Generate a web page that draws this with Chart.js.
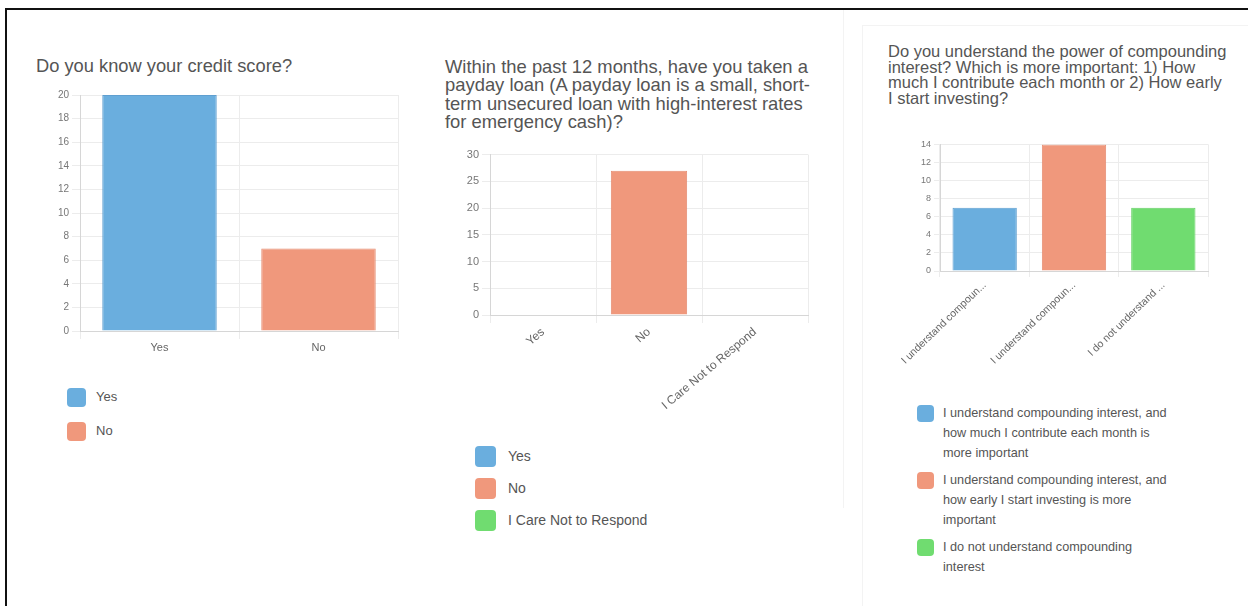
<!DOCTYPE html>
<html>
<head>
<meta charset="utf-8">
<script src="https://cdn.jsdelivr.net/npm/chart.js@4/dist/chart.umd.min.js"></script>
<style>
  body { margin: 0; width: 1248px; height: 606px; background: #fff; overflow: hidden;
         font-family: "Liberation Sans", Arial, sans-serif; position: relative; }
  .frame { position: absolute; left: 5px; top: 8px; width: 1300px; height: 700px;
           border-top: 2px solid #111; border-left: 2px solid #111; }
  .abs { position: absolute; }
  .title { position: absolute; color: #555; white-space: nowrap; }
  .legend { position: absolute; color: #555; }
  .legend .item { display: flex; align-items: flex-start; }
  .legend .box { flex: none; border-radius: 4px; }
  .faint { position: absolute; background: #f3f3f3; }
</style>
</head>
<body>
<div class="frame"></div>
<div class="faint" style="left:843px; top:10px; width:1px; height:498px;"></div>
<div class="faint" style="left:862px; top:25px; width:386px; height:1px;"></div>
<div class="faint" style="left:862px; top:25px; width:1px; height:581px;"></div>

<div class="title" style="left:36px; top:55px; font-size:18.3px;">Do you know your credit score?</div>
<div class="abs" style="left:45px; top:86px; width:355px; height:275px;"><canvas id="credit-chart"></canvas></div>
<div class="legend" id="credit-legend" style="left:67px; top:387px; font-size:13px;"></div>

<div class="title" style="left:445px; top:58px; font-size:18.4px; line-height:18.3px;">Within the past 12 months, have you taken a<br>payday loan (A payday loan is a small, short-<br>term unsecured loan with high-interest rates<br>for emergency cash)?</div>
<div class="abs" style="left:445px; top:145px; width:367px; height:265px;"><canvas id="payday-chart"></canvas></div>
<div class="legend" id="payday-legend" style="left:475px; top:446px; font-size:14px;"></div>

<div class="title" style="left:888px; top:44px; font-size:16.5px; line-height:15.5px;">Do you understand the power of compounding<br>interest? Which is more important: 1) How<br>much I contribute each month or 2) How early<br>I start investing?</div>
<div class="abs" style="left:880px; top:136px; width:332px; height:235px;"><canvas id="compound-chart"></canvas></div>
<div class="legend" id="compound-legend" style="left:917px; top:403px; font-size:12.7px;"></div>

<script>
// survey answers
const creditLabels = ['Yes', 'No'];
const creditCounts = [20, 7];

const paydayLabels = ['Yes', 'No', 'I Care Not to Respond'];
const paydayCounts = [0, 27, 0];

const compoundLabels = [
    'I understand compounding interest, and how much I contribute each month is more important',
    'I understand compounding interest, and how early I start investing is more important',
    'I do not understand compounding interest'
];
const compoundCounts = [7, 14, 7];

// y axis ranges [max, step]
const creditTicks = [20, 2];
const paydayTicks = [30, 5];
const compoundTicks = [14, 2];

const barColors = ['#6aaede', '#f0987c', '#70dc70'];
const barBorders = ['#5f9fd0', '#e58d72', '#66d066'];

Chart.defaults.font.family = '"Liberation Sans", Arial, sans-serif';
Chart.defaults.color = '#666';

function makeBarChart(id, labels, counts, ticks, opts) {
    return new Chart(document.getElementById(id), {
        type: 'bar',
        data: {
            labels: labels,
            datasets: [{
                data: counts,
                backgroundColor: barColors.slice(0, labels.length),
                borderColor: barBorders.slice(0, labels.length),
                borderWidth: 1
            }]
        },
        options: {
            responsive: true,
            maintainAspectRatio: false,
            animation: false,
            layout: { padding: { top: opts.padTop, right: opts.padRight, left: 0, bottom: 0 } },
            plugins: {
                legend: { display: false },
                tooltip: { enabled: false }
            },
            scales: {
                x: {
                    grid: { color: '#ececec', tickLength: opts.tickLen },
                    border: { color: '#d6d6d6' },
                    ticks: {
                        font: { size: opts.xFont },
                        color: '#666',
                        padding: 2,
                        minRotation: opts.rotation,
                        maxRotation: opts.rotation,
                        autoSkip: false,
                        callback: function(value) {
                            const label = this.getLabelForValue(value);
                            if (opts.truncate && label.length > opts.truncate) {
                                return label.slice(0, opts.truncate) + '...';
                            }
                            return label;
                        }
                    },
                    afterFit: function(scale) { scale.height = opts.xHeight; }
                },
                y: {
                    min: 0,
                    max: ticks[0],
                    grid: { color: '#ececec', tickLength: opts.tickLen },
                    border: { color: '#d6d6d6' },
                    ticks: { stepSize: ticks[1], font: { size: opts.yFont }, color: '#777', padding: 3 },
                    afterFit: function(scale) { scale.width = opts.yWidth; }
                }
            }
        }
    });
}

function buildLegend(id, labels, boxSize, gap, lineHeight, textWidth) {
    const el = document.getElementById(id);
    labels.forEach((label, i) => {
        const item = document.createElement('div');
        item.className = 'item';
        item.style.marginBottom = gap + 'px';
        item.style.lineHeight = lineHeight + 'px';
        const box = document.createElement('span');
        box.className = 'box';
        box.style.width = boxSize + 'px';
        box.style.height = boxSize + 'px';
        box.style.background = barColors[i];
        box.style.marginRight = Math.round(boxSize * 0.55) + 'px';
        box.style.marginTop = Math.round((lineHeight - boxSize) / 2) + 'px';
        const text = document.createElement('span');
        text.textContent = label;
        if (textWidth) {
            text.style.width = textWidth + 'px';
        } else {
            text.style.whiteSpace = 'nowrap';
        }
        item.appendChild(box);
        item.appendChild(text);
        el.appendChild(item);
    });
}

makeBarChart('credit-chart', creditLabels, creditCounts, creditTicks, {
    padTop: 8, padRight: 2, tickLen: 8, xFont: 11, yFont: 10, rotation: 0, xHeight: 30, yWidth: 35
});
makeBarChart('payday-chart', paydayLabels, paydayCounts, paydayTicks, {
    padTop: 8, padRight: 4, tickLen: 8, xFont: 12, yFont: 11, rotation: 40, xHeight: 95, yWidth: 45
});
makeBarChart('compound-chart', compoundLabels, compoundCounts, compoundTicks, {
    padTop: 6, padRight: 4, tickLen: 6, xFont: 10.5, yFont: 9, rotation: 44, xHeight: 100, yWidth: 60,
    truncate: 20
});

buildLegend('credit-legend', creditLabels, 19, 14, 20);
buildLegend('payday-legend', paydayLabels, 21, 11, 21);
buildLegend('compound-legend', compoundLabels, 17, 7, 20, 229);
</script>
</body>
</html>
